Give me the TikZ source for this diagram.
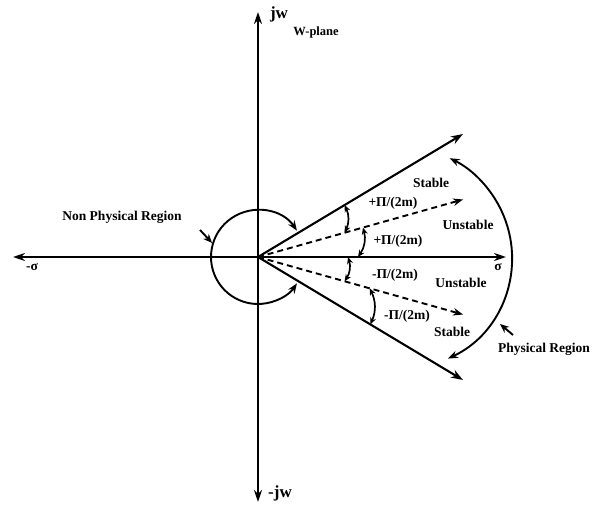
\documentclass[tikz,border=0pt]{standalone}
\usepackage{fontspec}
\setmainfont{Liberation Serif}
\usetikzlibrary{arrows.meta}
\begin{document}
\begin{tikzpicture}[x=1pt,y=1pt,
  bigtips/.style={{Stealth[length=12pt,width=8pt]}-{Stealth[length=12pt,width=8pt]}},
  axisline/.style={line width=2.4pt,bigtips},
  ray/.style={line width=2.1pt,-{Stealth[length=12pt,width=8.5pt]}},
  dray/.style={line width=1.9pt,dash pattern=on 6pt off 4pt,-{Stealth[length=10pt,width=7.5pt]}},
  curv/.style={line width=1.9pt,{Stealth[length=10pt,width=7.5pt]}-{Stealth[length=10pt,width=7.5pt]}},
  pointer/.style={line width=1.9pt,-{Stealth[length=9pt,width=7.5pt]}},
  ang/.style={line width=1.7pt,{Stealth[length=7pt,width=6pt]}-{Stealth[length=7pt,width=6pt]}},
  lbl/.style={font=\bfseries\fontsize{13.5}{15}\selectfont, inner sep=0pt},
  biglbl/.style={font=\bfseries\fontsize{17}{19}\selectfont, inner sep=0pt}]
\useasboundingbox (0,0) rectangle (595,504);
\coordinate (O) at (258,247);
\coordinate (top) at (258,492);
\coordinate (bot) at (258,2);
\coordinate (left) at (13,247);
\coordinate (right) at (506,247);
% axes
\draw[axisline] (bot) -- (top);
\draw[axisline] (left) -- (right);
% rays
\coordinate (U) at ([shift={(30.96:239)}]O);
\coordinate (L) at ([shift={(-30.96:239)}]O);
\coordinate (DU) at ([shift={(15.67:213)}]O);
\coordinate (DL) at ([shift={(-15.67:213)}]O);
\draw[ray] (O) -- (U);
\draw[ray] (O) -- (L);
\draw[dray] (O) -- (DU);
\draw[dray] (O) -- (DL);
% small circle arc (non physical)
\draw[curv] ([shift={(34:47)}]O) arc[start angle=34, end angle=326, radius=47];
\coordinate (np1) at (200,274);
\coordinate (np2) at ([shift={(163:48)}]O);
\draw[pointer] (np1) -- (np2);
% big arc (physical)
\coordinate (C) at (401,246);
\draw[curv] ([shift={(-65:111)}]C) arc[start angle=-65, end angle=64, radius=111];
\coordinate (p1) at (513,169);
\coordinate (p2) at (500,180);
\draw[pointer] (p1) -- (p2);
% angle arcs
\draw[ang] ([shift={(30.96:101)}]O) to[bend left=25] ([shift={(15.67:90)}]O);
\draw[ang] ([shift={(15.67:109)}]O) to[bend left=25] ([shift={(0:100)}]O);
\draw[ang] ([shift={(0:90)}]O) to[bend left=25] ([shift={(-15.67:90)}]O);
\draw[ang] ([shift={(-15.67:116)}]O) to[bend left=25] ([shift={(-30.96:131)}]O);
% labels
\node[biglbl] (jw) at (279,490) {jw};
\node[lbl,font=\bfseries\fontsize{12.5}{14}\selectfont] (wp) at (316,472) {W-plane};
\node[biglbl] (mjw) at (280,11) {-jw};
\node[lbl] (ms) at (32,237) {-σ};
\node[lbl] (s) at (498,237) {σ};
\node[lbl] (npr) at (122,287) {Non Physical Region};
\node[lbl] (pr) at (544,155) {Physical Region};
\node[lbl] (st1) at (431,321) {Stable};
\node[lbl] (un1) at (468,279) {Unstable};
\node[lbl] (a1) at (393,301) {+Π/(2m)};
\node[lbl] (a2) at (398,263) {+Π/(2m)};
\node[lbl] (a3) at (395,229) {-Π/(2m)};
\node[lbl] (un2) at (461,221) {Unstable};
\node[lbl] (a4) at (407,188) {-Π/(2m)};
\node[lbl] (st2) at (452,172) {Stable};
\end{tikzpicture}
\end{document}
